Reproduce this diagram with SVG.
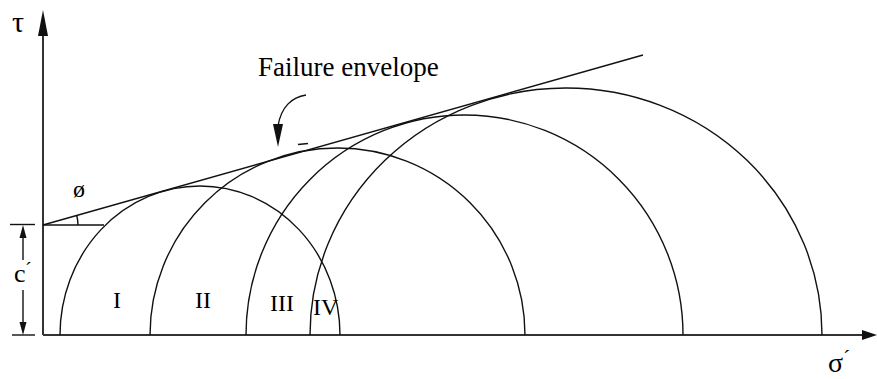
<svg xmlns="http://www.w3.org/2000/svg" width="877" height="379" viewBox="0 0 877 379">
<style>
.c{fill:none;stroke:#111;stroke-width:1.4}
.ax{fill:none;stroke:#333;stroke-width:2}
.t{font-family:"Liberation Serif","Times New Roman",serif;fill:#000}
.ah{fill:#111;stroke:none}
</style>
<rect width="877" height="379" fill="#fff"/>
<g id="axes">
<line class="ax" x1="43" y1="335" x2="43" y2="30"/>
<polygon class="ah" points="38,36 43,10 48,36"/>
<line class="ax" x1="43" y1="335" x2="864" y2="335"/>
<polygon class="ah" points="862,330 877,335 862,340"/>
<text class="t" x="12" y="32" font-size="30">τ</text>
<text class="t" x="828" y="372" font-size="28">σ</text>
<text class="t" x="843" y="365" font-size="22">´</text>
</g>
<g id="circles">
<path id="circle-I" class="c" d="M60,335 A140,149 0 0 1 340,335"/>
<path id="circle-II" class="c" d="M150,335 A187.5,187 0 0 1 525,335"/>
<path id="circle-III" class="c" d="M246,335 A218.5,220 0 0 1 683,335"/>
<path id="circle-IV" class="c" d="M310,335 A256,247 0 0 1 822,335"/>
</g>
<g id="envelope">
<line class="c" x1="43" y1="225" x2="643" y2="55"/>
<line class="c" x1="43" y1="225" x2="104" y2="225"/>
<path class="c" d="M78,225 A35,35 0 0 0 76.7,215.5"/>
<line class="c" x1="298" y1="144.5" x2="308" y2="143.5"/>
<text class="t" x="73" y="197" font-size="24">ø</text>
</g>
<g id="labels">
<text class="t" x="258" y="76" font-size="27">Failure envelope</text>
<text class="t" x="113" y="308" font-size="24">I</text>
<text class="t" x="195" y="308" font-size="24">II</text>
<text class="t" x="270" y="311" font-size="24">III</text>
<text class="t" x="313" y="315" font-size="24">IV</text>
</g>
<g id="connectors">
<path class="c" d="M306,95 C292,97 281,107 278,126"/>
<polygon class="ah" points="273,124 283,124 278,147"/>
</g>
<g id="c-dimension">
<line class="c" x1="10" y1="224.5" x2="35" y2="224.5"/>
<line class="c" x1="12" y1="335" x2="35" y2="335"/>
<line class="c" x1="23" y1="232" x2="23" y2="260"/>
<line class="c" x1="23" y1="290" x2="23" y2="328"/>
<polygon class="ah" points="19.5,238 23,225 26.5,238"/>
<polygon class="ah" points="19.5,322 23,335 26.5,322"/>
<text class="t" x="14" y="282" font-size="26">c</text>
<text class="t" x="25" y="277" font-size="20">´</text>
</g>
</svg>
